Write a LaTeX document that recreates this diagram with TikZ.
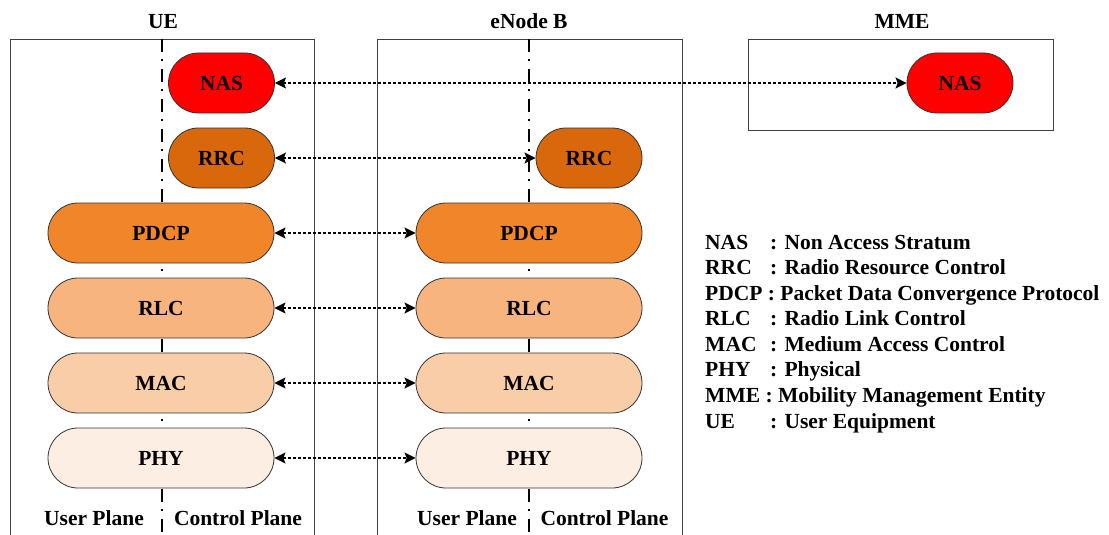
\documentclass[tikz,border=0pt]{standalone}
\usepackage{fontspec}
\setmainfont{Liberation Serif}
\usetikzlibrary{arrows.meta}

\definecolor{nascol}{HTML}{FF0000}
\definecolor{rrccol}{HTML}{D9680D}
\definecolor{pdcpcol}{HTML}{F0852A}
\definecolor{rlccol}{HTML}{F7B47F}
\definecolor{maccol}{HTML}{F9CDA8}
\definecolor{phycol}{HTML}{FCEEE3}

\newcommand{\abbrcol}[1]{\makebox[65pt][l]{#1}}

\begin{document}
\begin{tikzpicture}[x=1pt,y=-1pt,
  lbl/.style={font=\fontsize{21.5}{25.6}\selectfont\bfseries, inner sep=0pt},
  layer/.style={lbl, draw=black!80, line width=0.8pt, rounded corners=30pt,
                minimum height=60pt, minimum width=#1},
  layer/.default=106pt,
  frame/.style={draw=black!75, line width=0.9pt},
  planeline/.style={line width=1.8pt, dash pattern=on 13pt off 7pt on 2pt off 8pt},
  link/.style={line width=1.6pt, dash pattern=on 3pt off 2pt,
               {Stealth[length=11pt,width=11pt,inset=2pt]}-{Stealth[length=11pt,width=11pt,inset=2pt]}}
]
\useasboundingbox (0,0) rectangle (1109,535);

% entity frames (open at the bottom for UE and eNode B)
\draw[frame] (10,537) -- (10,39) -- (314,39) -- (314,537);
\draw[frame] (377,537) -- (377,39) -- (682,39) -- (682,537);
\draw[frame] (748,39) rectangle (1053,130);

% user / control plane separators
\draw[planeline] (162,39) -- (162,537);
\draw[planeline] (529,39) -- (529,537);

% titles
\node[lbl, anchor=base] (t-ue)  at (163,29) {UE};
\node[lbl, anchor=base] (t-enb) at (529,29) {eNode B};
\node[lbl, anchor=base] (t-mme) at (902,29) {MME};

% UE protocol stack
\node[layer, fill=nascol]          (ue-nas)  at (221.5,83)  {NAS};
\node[layer, fill=rrccol]          (ue-rrc)  at (221.5,158) {RRC};
\node[layer=226pt, fill=pdcpcol]   (ue-pdcp) at (161,233)   {PDCP};
\node[layer=226pt, fill=rlccol]    (ue-rlc)  at (161,308)   {RLC};
\node[layer=226pt, fill=maccol]    (ue-mac)  at (161,383)   {MAC};
\node[layer=226pt, fill=phycol]    (ue-phy)  at (161,458)   {PHY};

% eNode B protocol stack
\node[layer, fill=rrccol]          (enb-rrc)  at (589,158) {RRC};
\node[layer=226pt, fill=pdcpcol]   (enb-pdcp) at (529,233) {PDCP};
\node[layer=226pt, fill=rlccol]    (enb-rlc)  at (529,308) {RLC};
\node[layer=226pt, fill=maccol]    (enb-mac)  at (529,383) {MAC};
\node[layer=226pt, fill=phycol]    (enb-phy)  at (529,458) {PHY};

% MME
\node[layer, fill=nascol] (mme-nas) at (960,83) {NAS};

% peer-to-peer links
\draw[link] (ue-nas.east)  -- (mme-nas.west);
\draw[link] (ue-rrc.east)  -- (enb-rrc.west);
\draw[link] (ue-pdcp.east) -- (enb-pdcp.west);
\draw[link] (ue-rlc.east)  -- (enb-rlc.west);
\draw[link] (ue-mac.east)  -- (enb-mac.west);
\draw[link] (ue-phy.east)  -- (enb-phy.west);

% plane labels
\node[lbl, anchor=base] (ue-up)  at (94,525)    {User Plane};
\node[lbl, anchor=base] (ue-cp)  at (238,525)   {Control Plane};
\node[lbl, anchor=base] (enb-up) at (467,525)   {User Plane};
\node[lbl, anchor=base] (enb-cp) at (604.5,525) {Control Plane};

% legend
\node[lbl, anchor=base west] (lg1) at (705,249)   {\abbrcol{NAS}: Non Access Stratum};
\node[lbl, anchor=base west] (lg2) at (705,274.6) {\abbrcol{RRC}: Radio Resource Control};
\node[lbl, anchor=base west] (lg3) at (705,300.1) {PDCP : Packet Data Convergence Protocol};
\node[lbl, anchor=base west] (lg4) at (705,325.7) {\abbrcol{RLC}: Radio Link Control};
\node[lbl, anchor=base west] (lg5) at (705,351.3) {\abbrcol{MAC}: Medium Access Control};
\node[lbl, anchor=base west] (lg6) at (705,376.9) {\abbrcol{PHY}: Physical};
\node[lbl, anchor=base west] (lg7) at (705,402.4) {MME : Mobility Management Entity};
\node[lbl, anchor=base west] (lg8) at (705,428)   {\abbrcol{UE}: User Equipment};
\end{tikzpicture}
\end{document}
